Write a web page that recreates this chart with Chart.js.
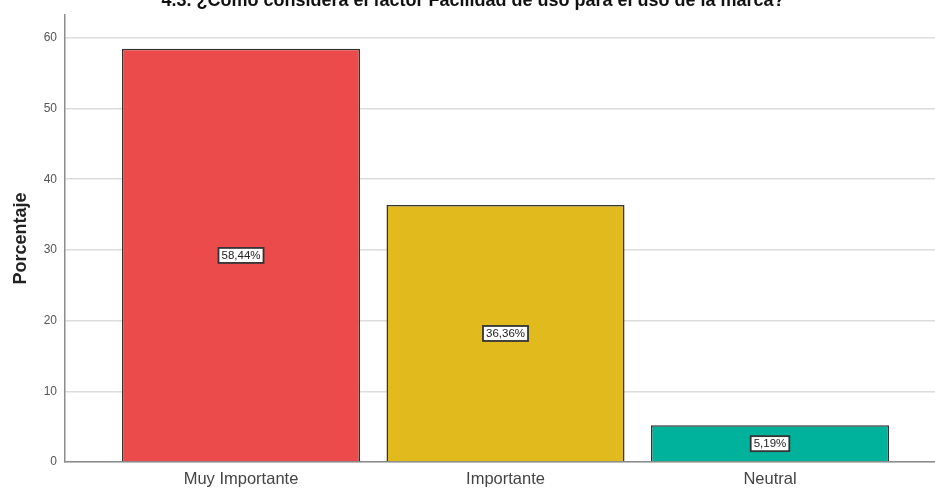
<!DOCTYPE html>
<html>
<head>
<meta charset="utf-8">
<script src="https://cdn.jsdelivr.net/npm/chart.js@4/dist/chart.umd.min.js"></script>
<style>
  html, body { margin: 0; padding: 0; background: #fff; }
  canvas { display: block; }
</style>
</head>
<body>
<canvas id="graficoFacilidad" width="935" height="489"></canvas>
<script>
const tituloGrafico = '4.3. ¿Cómo considera el factor Facilidad de uso para el uso de la marca?';
const categorias = ['Muy Importante', 'Importante', 'Neutral'];
const porcentajes = [58.44, 36.36, 5.19];
const etiquetasValor = ['58,44%', '36,36%', '5,19%'];
const coresBarras = ['rgb(236, 75, 76)', 'rgb(225, 186, 30)', 'rgb(0, 178, 156)'];
const ticksY = [0, 10, 20, 30, 40, 50, 60];

const fonte = '"Liberation Sans", Arial, sans-serif';

// título de cima (fica cortado na borda superior)
const pluginTitulo = {
    id: 'tituloTopo',
    afterDraw(chart) {
        const ctx = chart.ctx;
        ctx.save();
        ctx.font = 'bold 18px ' + fonte;
        ctx.fillStyle = '#111';
        ctx.textAlign = 'center';
        ctx.textBaseline = 'alphabetic';
        ctx.fillText(tituloGrafico, 473, 6);
        ctx.restore();
    }
};

// caixinhas brancas com o valor no meio de cada barra
const pluginEtiquetas = {
    id: 'etiquetasBarras',
    afterDatasetsDraw(chart) {
        const ctx = chart.ctx;
        const meta = chart.getDatasetMeta(0);
        const escalaY = chart.scales.y;
        ctx.save();
        ctx.font = '11.5px ' + fonte;
        ctx.textAlign = 'center';
        ctx.textBaseline = 'middle';
        meta.data.forEach((barra, i) => {
            const y = escalaY.getPixelForValue(porcentajes[i] / 2);
            const texto = etiquetasValor[i];
            const w = ctx.measureText(texto).width + 6;
            const h = 15;
            ctx.fillStyle = '#fff';
            ctx.fillRect(barra.x - w / 2, y - h / 2, w, h);
            ctx.strokeStyle = '#333';
            ctx.lineWidth = 1.8;
            ctx.strokeRect(barra.x - w / 2, y - h / 2, w, h);
            ctx.fillStyle = '#222';
            ctx.fillText(texto, barra.x, y + 0.5);
        });
        ctx.restore();
    }
};

const ctx = document.getElementById('graficoFacilidad');

new Chart(ctx.getContext('2d'), {
    type: 'bar',
    data: {
        datasets: [{
            data: porcentajes.map((v, i) => ({ x: i, y: v })),
            backgroundColor: coresBarras,
            borderColor: '#333',
            borderWidth: 1.5,
            barPercentage: 0.9,
            categoryPercentage: 1
        }]
    },
    options: {
        responsive: false,
        animation: false,
        layout: { padding: { top: 12, left: 0, right: 0, bottom: 0 } },
        plugins: {
            legend: { display: false },
            tooltip: { enabled: false }
        },
        scales: {
            x: {
                type: 'linear',
                offset: false,
                min: -0.6654,
                max: 2.6238,
                afterBuildTicks: (escala) => {
                    escala.ticks = categorias.map((c, i) => ({ value: i }));
                },
                afterFit: (escala) => { escala.height = 27; },
                grid: { display: false, drawTicks: false },
                border: { color: '#8c8c8c', width: 1.5 },
                ticks: {
                    padding: 8,
                    color: '#444',
                    font: { family: fonte, size: 16.5 },
                    callback: (valor) => categorias[valor]
                }
            },
            y: {
                min: 0,
                max: 63.2,
                afterBuildTicks: (escala) => {
                    escala.ticks = ticksY.map(v => ({ value: v }));
                },
                afterFit: (escala) => { escala.width = 65; },
                grid: { color: '#dcdcdc', lineWidth: 1.5, drawTicks: false },
                border: { color: '#8c8c8c', width: 1.5 },
                ticks: {
                    padding: 8,
                    color: '#555',
                    font: { family: fonte, size: 12 }
                },
                title: {
                    display: true,
                    text: 'Porcentaje',
                    color: '#222',
                    padding: { top: 10, bottom: 0 },
                    font: { family: fonte, size: 18, weight: 'bold' }
                }
            }
        }
    },
    plugins: [pluginTitulo, pluginEtiquetas]
});
</script>
</body>
</html>
